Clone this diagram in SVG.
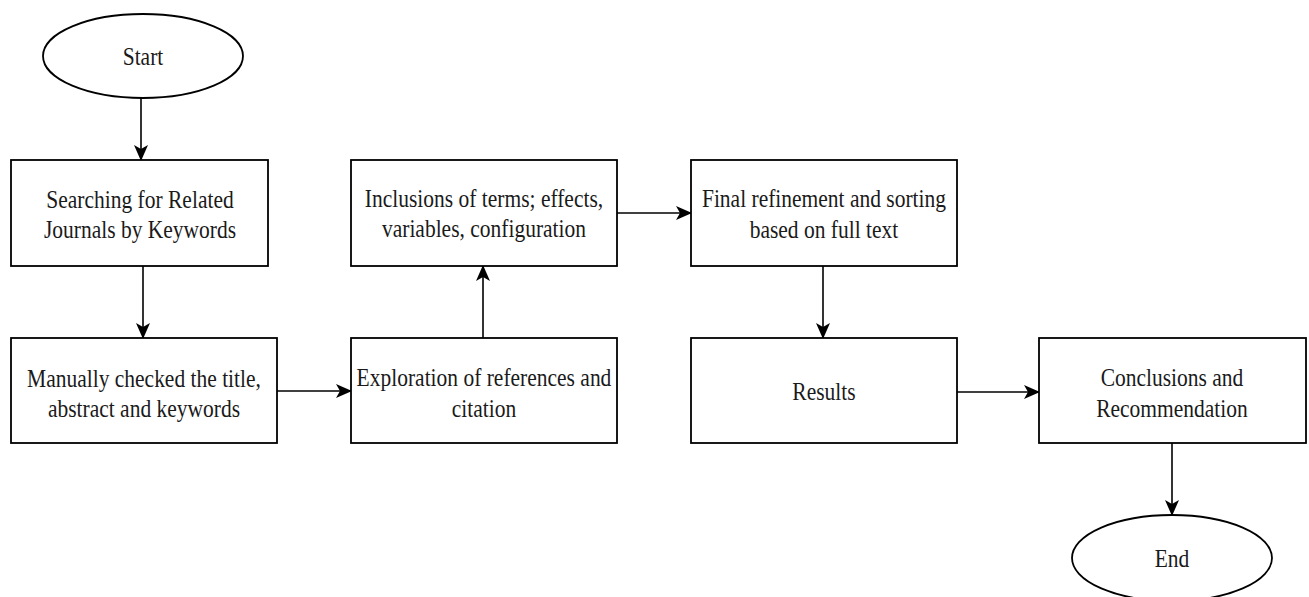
<svg xmlns="http://www.w3.org/2000/svg" width="1309" height="597" viewBox="0 0 1309 597">
<style>
.box{fill:#fff;stroke:#000;stroke-width:1.8}
.lbl{font-family:"Liberation Serif","Times New Roman",serif;font-size:21.5px;fill:#1a1a1a;text-anchor:middle}
.conn{fill:none;stroke:#000;stroke-width:1.6;marker-end:url(#ah)}
</style>
<defs>
<marker id="ah" viewBox="0 0 16 14" refX="15" refY="7" markerWidth="16" markerHeight="14" markerUnits="userSpaceOnUse" orient="auto">
<path d="M0,0 L16,7 L0,14 L4,7 Z" fill="#000"/>
</marker>
</defs>
<g id="connectors">
<line class="conn" x1="141" y1="98" x2="141" y2="160"/>
<line class="conn" x1="143" y1="266" x2="143" y2="338"/>
<line class="conn" x1="277" y1="391" x2="351" y2="391"/>
<line class="conn" x1="483" y1="338" x2="483" y2="266"/>
<line class="conn" x1="617" y1="213" x2="691" y2="213"/>
<line class="conn" x1="823" y1="266" x2="823" y2="338"/>
<line class="conn" x1="957" y1="392" x2="1039" y2="392"/>
<line class="conn" x1="1172" y1="443" x2="1172" y2="515"/>
</g>
<g id="start">
<ellipse class="box" cx="143" cy="56" rx="100" ry="42"/>
<text class="lbl" x="143" y="0" transform="translate(0 65) scale(1 1.2)">Start</text>
</g>
<g id="search">
<rect class="box" x="11" y="160" width="257" height="106"/>
<text class="lbl" x="140" y="0" transform="translate(0 208) scale(1 1.2)">Searching for Related</text>
<text class="lbl" x="140" y="0" transform="translate(0 238) scale(1 1.2)">Journals by Keywords</text>
</g>
<g id="manual">
<rect class="box" x="11" y="338" width="266" height="105"/>
<text class="lbl" x="144" y="0" transform="translate(0 387) scale(1 1.2)">Manually checked the title,</text>
<text class="lbl" x="144" y="0" transform="translate(0 417) scale(1 1.2)">abstract and keywords</text>
</g>
<g id="exploration">
<rect class="box" x="351" y="338" width="266" height="105"/>
<text class="lbl" x="484" y="0" transform="translate(0 386) scale(1 1.2)">Exploration of references and</text>
<text class="lbl" x="484" y="0" transform="translate(0 417) scale(1 1.2)">citation</text>
</g>
<g id="inclusions">
<rect class="box" x="351" y="160" width="266" height="106"/>
<text class="lbl" x="484" y="0" transform="translate(0 207) scale(1 1.2)">Inclusions of terms; effects,</text>
<text class="lbl" x="484" y="0" transform="translate(0 237) scale(1 1.2)">variables, configuration</text>
</g>
<g id="final">
<rect class="box" x="691" y="160" width="266" height="106"/>
<text class="lbl" x="824" y="0" transform="translate(0 207) scale(1 1.2)">Final refinement and sorting</text>
<text class="lbl" x="824" y="0" transform="translate(0 238) scale(1 1.2)">based on full text</text>
</g>
<g id="results">
<rect class="box" x="691" y="338" width="266" height="105"/>
<text class="lbl" x="824" y="0" transform="translate(0 400) scale(1 1.2)">Results</text>
</g>
<g id="conclusions">
<rect class="box" x="1039" y="338" width="267" height="105"/>
<text class="lbl" x="1172" y="0" transform="translate(0 386) scale(1 1.2)">Conclusions and</text>
<text class="lbl" x="1172" y="0" transform="translate(0 417) scale(1 1.2)">Recommendation</text>
</g>
<g id="end">
<ellipse class="box" cx="1172" cy="558" rx="100" ry="43"/>
<text class="lbl" x="1172" y="0" transform="translate(0 567) scale(1 1.2)">End</text>
</g>
</svg>
